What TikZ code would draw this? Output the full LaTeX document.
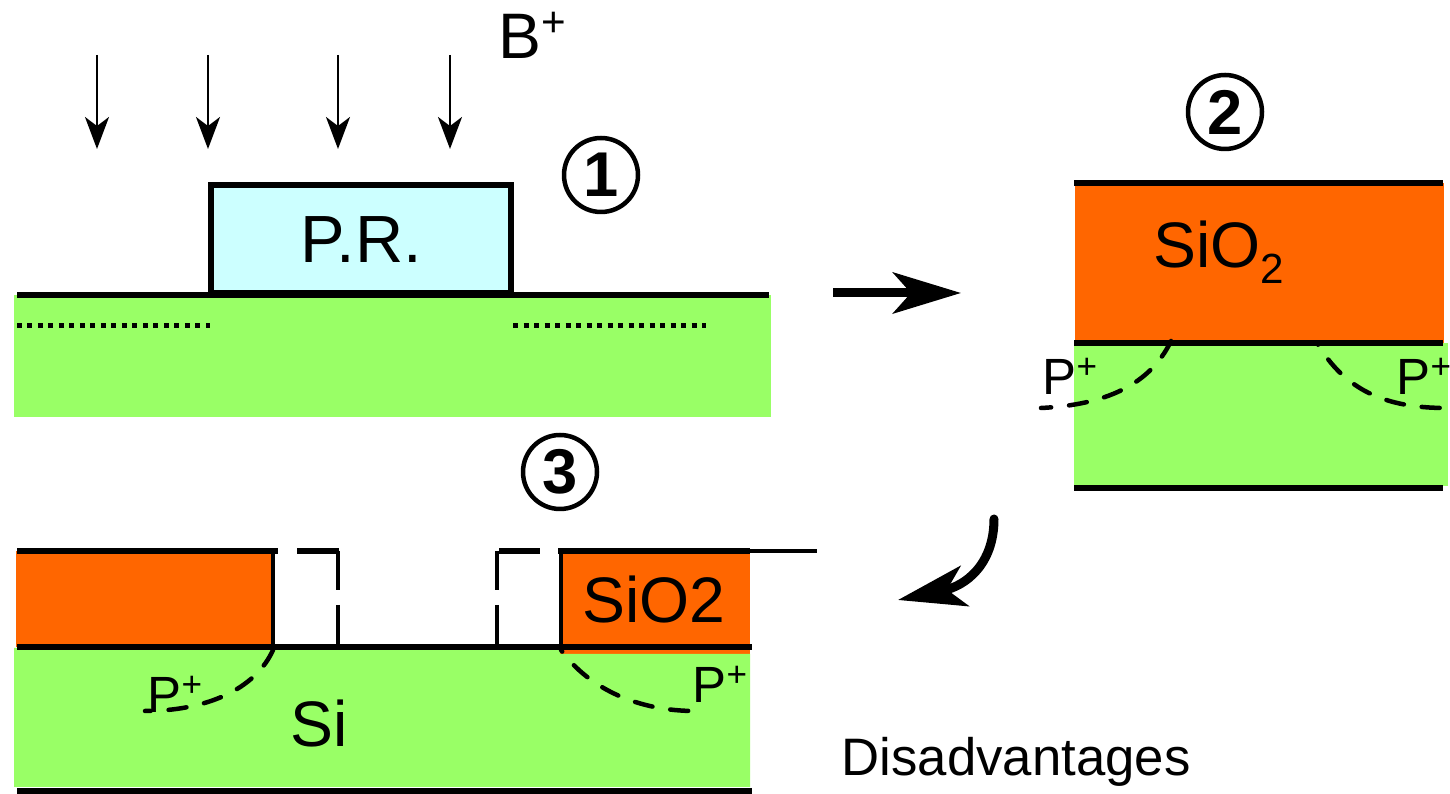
\documentclass[tikz,border=0pt]{standalone}
\usepackage{xcolor}
\usepackage{fontspec}
\usepackage{tikz}
\usetikzlibrary{arrows.meta}
\setmainfont{Liberation Sans}
\definecolor{siliconGreen}{HTML}{99FF66}
\definecolor{oxideOrange}{HTML}{FF6600}
\definecolor{resistCyan}{HTML}{CCFFFF}
\newcommand{\pplus}{P\raisebox{1.6mm}{\fontsize{10}{11}\selectfont +}}
\begin{document}
\begin{tikzpicture}[x=0.1mm, y=-0.1mm,
    big/.style={font=\fontsize{18.3}{20}\selectfont, anchor=base west, inner sep=0pt},
    small/.style={font=\fontsize{14.5}{16}\selectfont, anchor=base west, inner sep=0pt},
    stepno/.style={draw, circle, line width=0.45mm, minimum size=7.4mm, inner sep=0pt, font=\fontsize{18}{20}\selectfont\bfseries},
    surface/.style={line width=0.55mm},
    wall/.style={line width=0.42mm},
    junction/.style={line width=0.45mm, line cap=round, dash pattern=on 1.8mm off 1.8mm},
    implant/.style={line width=0.5mm, dash pattern=on 0.5mm off 0.55mm},
    ion/.style={-{Stealth[length=3.2mm, width=2.4mm, inset=0.9mm]}, line width=0.22mm},
    flow/.style={-{Stealth[length=6.8mm, width=4.1mm, inset=1.8mm]}, line width=0.9mm}]
    \useasboundingbox (0,0) rectangle (1450,794);
    \fill [white] (0,0) rectangle (1450,794);

    \fill [siliconGreen] (14,295) rectangle (771,417);
    \draw [surface] (17,295) -- (769,295);
    \draw [surface, fill=resistCyan] (211,293) rectangle (511,185);
    \draw [implant] (17,326) -- (210,326);
    \draw [implant] (513,326) -- (706,326);
    \draw [ion] (97,55) -- (97,149);
    \draw [ion] (208,55) -- (208,149);
    \draw [ion] (338,55) -- (338,149);
    \draw [ion] (450,55) -- (450,149);
    \node [big] (ionlabel) at (498,59) {B\raisebox{2.2mm}{\fontsize{12}{13}\selectfont +}};
    \node [big, font=\fontsize{19}{21}\selectfont] (prlabel) at (300,263) {P.R.};
    \node [stepno] (stepone) at (601,175) {1};

    \fill [oxideOrange] (1075,183) rectangle (1444,343);
    \fill [siliconGreen] (1074,343) rectangle (1448,486);
    \draw [surface] (1074,183) -- (1443,183);
    \draw [surface] (1074,343) -- (1443,343);
    \draw [surface] (1074,488) -- (1443,488);
    \node [big] (oxidelabel) at (1153,268) {SiO\raisebox{-1.6mm}{\fontsize{12}{13}\selectfont 2}};
    \node [small] (leftpplus) at (1042,395) {\pplus};
    \node [small] (rightpplus) at (1396,395) {\pplus};
    \draw [junction] (1171,341) .. controls (1150,385) and (1105,405) .. (1041,408);
    \draw [junction, dash phase=1.6mm] (1317,343) .. controls (1345,390) and (1385,408) .. (1446,408);
    \node [stepno] (steptwo) at (1225,112) {2};

    \fill [oxideOrange] (16,551) rectangle (273,647);
    \fill [oxideOrange] (560,553) rectangle (750,654);
    \fill [siliconGreen] (14,648) -- (560,648) -- (560,654) -- (750,654) -- (750,787) -- (14,787) -- cycle;
    \draw [surface] (17,551) -- (278,551);
    \draw [surface] (297,551) -- (339,551);
    \draw [surface] (499,551) -- (540,551);
    \draw [surface] (558,551) -- (750,551);
    \draw [line width=0.35mm] (750,551) -- (817,551);
    \draw [surface] (17,647) -- (752,647);
    \draw [surface] (17,791) -- (752,791);
    \draw [wall] (273,551) -- (273,647);
    \draw [wall] (338,551) -- (338,590);
    \draw [wall] (338,605) -- (338,647);
    \draw [wall] (497,551) -- (497,590);
    \draw [wall] (497,605) -- (497,647);
    \draw [wall] (561,551) -- (561,650);
    \node [big] (filmlabel) at (582,623) {SiO2};
    \node [big] (bulklabel) at (290,747) {Si};
    \node [small] (lowleftpplus) at (147,713) {\pplus};
    \node [small] (lowrightpplus) at (692,703) {\pplus};
    \draw [junction] (273,650) .. controls (255,690) and (205,711) .. (145,711);
    \draw [junction, dash phase=1.6mm] (561,650) .. controls (590,690) and (640,711) .. (695,711);
    \node [stepno] (stepthree) at (560,472) {3};

    \coordinate (flowstart) at (833,293);
    \coordinate (flowend) at (961,293);
    \coordinate (turnstart) at (994,519);
    \coordinate (turnend) at (898,600);
    \draw [flow] (flowstart) -- (flowend);
    \draw [flow, line cap=round] (turnstart) .. controls (994,565) and (965,586) .. (turnend);
    \node [small, font=\fontsize{15}{17}\selectfont] (drawbacks) at (841,776) {Disadvantages};
\end{tikzpicture}
\end{document}
